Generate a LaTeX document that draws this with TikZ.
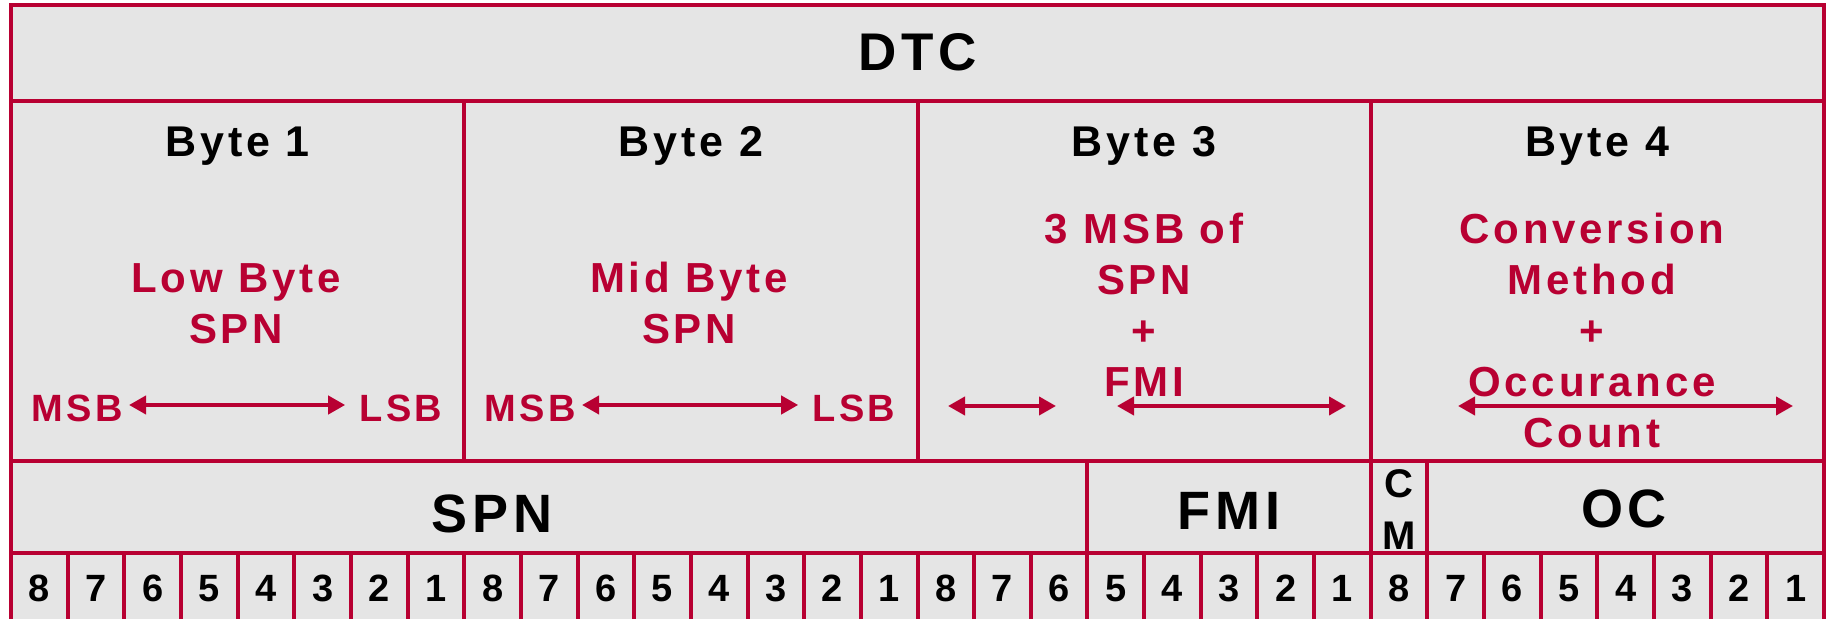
\documentclass[tikz,border=0pt]{standalone}
\usepackage{fontspec}
\setmainfont{Liberation Sans}[LetterSpace=9]
\usetikzlibrary{arrows.meta}
\definecolor{dtcred}{RGB}{184,0,50}
\definecolor{cellgray}{RGB}{229,229,229}
\begin{document}
\begin{tikzpicture}[x=0.5pt, y=-0.5pt,
        grid/.style={draw=dtcred, line width=2pt},
        titel/.style={font=\bfseries\fontsize{26.5}{32}\selectfont, anchor=base, inner sep=0pt},
        bytehdr/.style={font=\bfseries\fontsize{21.5}{26}\selectfont, anchor=base, inner sep=0pt},
        inhalt/.style={font=\bfseries\fontsize{21}{25.5}\selectfont, text=dtcred, align=center, anchor=base, inner sep=0pt},
        bitgrenze/.style={font=\bfseries\fontsize{19}{23}\selectfont, text=dtcred, anchor=base, inner sep=0pt},
        feld/.style={font=\bfseries\fontsize{27}{32}\selectfont, anchor=base, inner sep=0pt},
        bitnr/.style={font=\bfseries\fontsize{19}{23}\selectfont, anchor=base, inner sep=0pt},
        pfeil/.style={dtcred, line width=2pt, {Triangle[length=8.5pt,width=9pt]}-{Triangle[length=8.5pt,width=9pt]}}
    ]
        \useasboundingbox (0,0) rectangle (1832,619);
        \clip (0,0) rectangle (1832,619);
        \def\bw{56.656}

        % Hintergrund
        \fill[cellgray] (11,5) rectangle (1824,640);

        % Raster
        \draw[grid] (11,5) rectangle (1824,640);
        \draw[grid] (11,101) -- (1824,101);
        \draw[grid] (11,461) -- (1824,461);
        \draw[grid] (11,553) -- (1824,553);
        \foreach \b in {8,16,24}
            \draw[grid] ({11+\bw*\b},101) -- ({11+\bw*\b},461);
        \foreach \b in {19,24,25}
            \draw[grid] ({11+\bw*\b},461) -- ({11+\bw*\b},553);
        \foreach \b in {1,...,31}
            \draw[grid] ({11+\bw*\b},553) -- ({11+\bw*\b},640);

        % Titel
        \node[titel] (dtc) at (917.5, 71) {DTC};

        % Byte-Kopfzeilen
        \foreach \n in {1,...,4}
            \node[bytehdr] (byte\n) at ({11+\bw*8*(\n-0.5)}, 157) {Byte \n};

        % Inhalt der Bytes (Anker auf der letzten Zeile)
        \node[inhalt] (low_spn) at (236, 344) {Low Byte\\SPN};
        \node[inhalt] (mid_spn) at (689, 344) {Mid Byte\\SPN};
        \node[inhalt] (msb_fmi) at (1144, 397) {3 MSB of\\SPN\\+\\FMI};
        \node[inhalt] (cm_oc) at (1592, 448) {Conversion\\Method\\+\\Occurance\\Count};

        % MSB / LSB
        \node[bitgrenze] (msb1) at (77, 422) {MSB};
        \node[bitgrenze] (lsb1) at (401, 422) {LSB};
        \node[bitgrenze] (msb2) at (530, 422) {MSB};
        \node[bitgrenze] (lsb2) at (854, 422) {LSB};
        \draw[pfeil] ([xshift=3pt]msb1.east |- 0,405) -- ([xshift=-7pt]lsb1.west |- 0,405);
        \draw[pfeil] ([xshift=3pt]msb2.east |- 0,405) -- ([xshift=-7pt]lsb2.west |- 0,405);

        % Pfeile Byte 3 und 4
        \coordinate (b3a) at (948, 406);
        \coordinate (b3b) at (1056, 406);
        \coordinate (b3c) at (1117, 406);
        \coordinate (b3d) at (1346, 406);
        \coordinate (b4a) at (1458, 406);
        \coordinate (b4b) at (1793, 406);
        \draw[pfeil] (b3a) -- (b3b);
        \draw[pfeil] (b3c) -- (b3d);
        \draw[pfeil] (b4a) -- (b4b);

        % Felder
        \node[feld] (spn) at (492, 533) {SPN};
        \node[feld] (fmi) at (1229, 530) {FMI};
        \node[bytehdr, font=\bfseries\fontsize{20}{26}\selectfont, align=center] (cm) at ({11+\bw*24.5}, 550) {C\\M};
        \node[feld] (oc) at (1624, 528) {OC};

        % Bitnummern
        \foreach \i in {0,...,31}{
            \pgfmathtruncatemacro{\bitval}{8-mod(\i,8)}
            \node[bitnr] (bit\i) at ({11+\bw*(\i+0.5)}, 602) {\bitval};
        }
\end{tikzpicture}
\end{document}
